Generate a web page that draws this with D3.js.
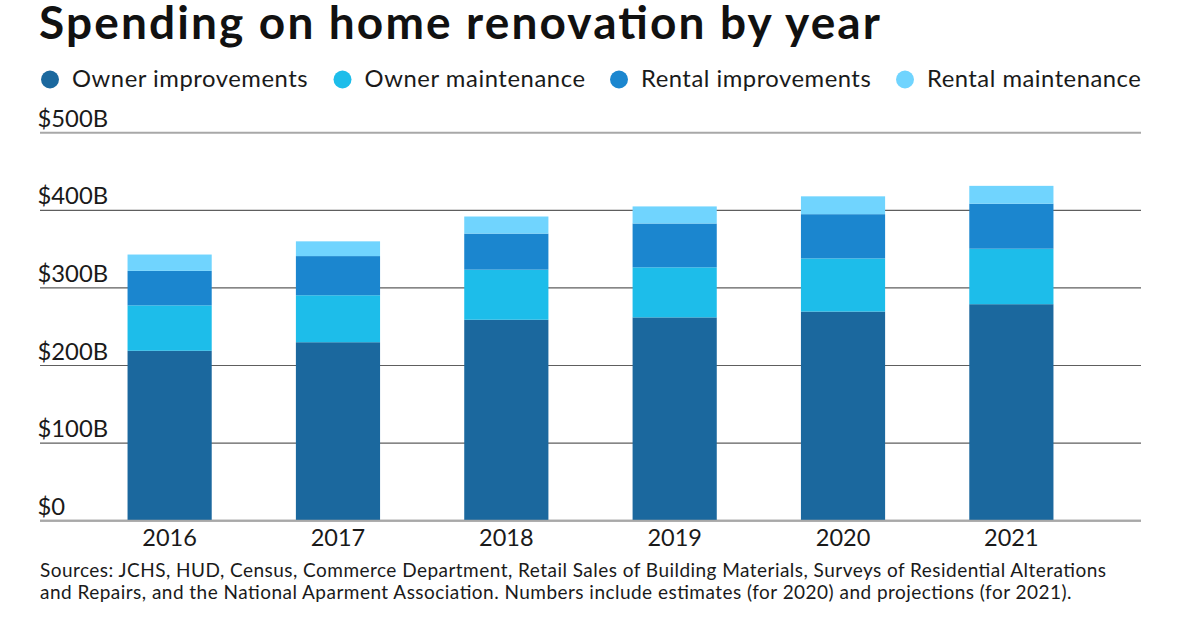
<!DOCTYPE html>
<html><head><meta charset="utf-8">
<script src="https://cdn.jsdelivr.net/npm/d3@7"></script>
<style>
html,body{margin:0;padding:0;background:#fff;}
svg{display:block;font-family:Lato, "Open Sans", sans-serif;}
</style></head>
<body><svg id="chart" width="1200" height="630"></svg>
<script>
const years = ["2016","2017","2018","2019","2020","2021"];
const seriesNames = ["Owner improvements","Owner maintenance","Rental improvements","Rental maintenance"];
const ownerImprovements = [219, 230, 259, 262, 269.5, 279];
const ownerMaintenance  = [58.5, 60.5, 64.5, 64.5, 68.5, 71.5];
const rentalImprovements= [44.5, 50.5, 46.5, 56.5, 57, 58];
const rentalMaintenance = [21, 19, 22, 22, 23, 23];
const yTicks = [0, 100, 200, 300, 400, 500];
const yTickLabels = ["$0","$100B","$200B","$300B","$400B","$500B"];
const colors = ["#1b689e","#1dbdea","#1b86cf","#70d4fe"];
const footnote = [
  "Sources: JCHS, HUD, Census, Commerce Department, Retail Sales of Building Materials, Surveys of Residential Alterations",
  "and Repairs, and the National Aparment Association. Numbers include estimates (for 2020) and projections (for 2021)."
];

(function(){
const svg = d3.select("#chart");
const mLeft = 40, mRight = 1141, mTop = 132.7, mBottom = 520.7;

const table = years.map((yr,i)=>({year:yr,
  "Owner improvements":ownerImprovements[i],
  "Owner maintenance":ownerMaintenance[i],
  "Rental improvements":rentalImprovements[i],
  "Rental maintenance":rentalMaintenance[i]}));
const stack = d3.stack().keys(seriesNames)(table);

const x = d3.scaleBand().domain(years).range([mLeft,mRight]).paddingInner(0.5).paddingOuter(0.52);
const y = d3.scaleLinear().domain([0,500]).range([mBottom,mTop]);
const color = d3.scaleOrdinal().domain(seriesNames).range(colors);

// Title
svg.append("text").attr("x",39).attr("y",39).attr("font-size",46).attr("font-weight",700)
  .attr("fill","#111").attr("textLength",841).attr("lengthAdjust","spacing")
  .text("Spending on home renovation by year");

// Legend
const legendX = [50, 342.5, 619, 905];
const legendW = [235.6, 220.5, 229.7, 213.8];
const lg = svg.append("g");
seriesNames.forEach((s,i)=>{
  lg.append("circle").attr("cx",legendX[i]).attr("cy",79.5).attr("r",9).attr("fill",colors[i]);
  lg.append("text").attr("x",legendX[i]+22).attr("y",87.3).attr("font-size",23.8).attr("fill","#1a1a1a")
    .attr("textLength",legendW[i]).attr("lengthAdjust","spacing").text(s);
});

// Grid lines
const grid = svg.append("g");
yTicks.forEach((t,i)=>{
  const edge = (t===0 || t===500);
  grid.append("line").attr("x1",mLeft).attr("x2",mRight).attr("y1",y(t)).attr("y2",y(t))
    .attr("stroke", edge ? "#a8a8a8" : "#5e5e5e").attr("stroke-width", edge ? 2 : 1.2);
  grid.append("text").attr("x",37.5).attr("y",y(t)-6).attr("font-size",23.8).attr("fill","#1a1a1a").text(yTickLabels[i]);
});

// Bars
svg.append("g").selectAll("g").data(stack).join("g").attr("fill",d=>color(d.key))
  .selectAll("rect").data(d=>d).join("rect")
  .attr("x",d=>x(d.data.year)).attr("width",x.bandwidth())
  .attr("y",d=>y(d[1])).attr("height",d=>y(d[0])-y(d[1]));

// redraw baseline on top
svg.append("line").attr("x1",mLeft).attr("x2",mRight).attr("y1",y(0)).attr("y2",y(0))
  .attr("stroke","#a8a8a8").attr("stroke-width",2);

// X axis labels
const xAxis = d3.axisBottom(x).tickSize(0).tickPadding(0);
const xg = svg.append("g").attr("transform",`translate(0,${mBottom})`).call(xAxis);
xg.select(".domain").remove();
xg.selectAll("text").attr("font-size",23.5).attr("fill","#1a1a1a").attr("font-family","Lato, sans-serif")
  .attr("y",25.5).attr("dy",0);

// Footnote
const footW = [1066, 1031.5];
footnote.forEach((l,i)=>{
  svg.append("text").attr("x",40).attr("y",577.3+i*22).attr("font-size",19).attr("fill","#1a1a1a")
    .attr("textLength",footW[i]).attr("lengthAdjust","spacing").text(l);
});
})();
</script></body></html>
